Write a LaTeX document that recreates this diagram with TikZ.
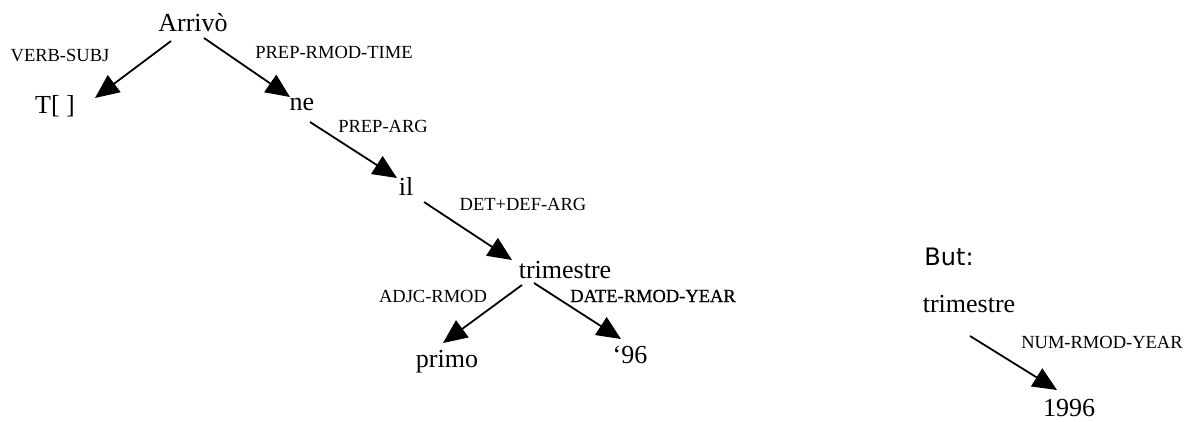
\documentclass[tikz,border=0pt]{standalone}
\usepackage{fontspec}
\setmainfont{Liberation Serif}
\newfontfamily\butfont{DejaVu Sans}
\newfontfamily\heavyserif[FakeBold=0.6]{Liberation Serif}
\usetikzlibrary{arrows.meta,calc}
\tikzset{
  word/.style={inner sep=0pt, anchor=base, font=\fontsize{26}{30}\selectfont},
  rel/.style={inner sep=0pt, anchor=center, font=\fontsize{18.5}{20}\selectfont},
  arr/.style={line width=1.8pt, -{Triangle[length=24pt,width=21pt]}},
}
\begin{document}
\begin{tikzpicture}[x=1pt,y=-1pt]
\useasboundingbox (0,0) rectangle (1189,421);
% words
\node[word] (arrivo) at (193,31) {Arrivò};
\node[word] (t) at (55,113) {T[ ]};
\node[word] (ne) at (302,110) {ne};
\node[word] (il) at (406,195) {il};
\node[word] (tri) at (565,278) {trimestre};
\node[word] (primo) at (447,367) {primo};
\node[word] (y96) at (630,363) {‘96};
\node[inner sep=0pt, anchor=base, font=\butfont\fontsize{24}{28}\selectfont] (but) at (949,265) {But:};
\node[word] (tri2) at (969,312) {trimestre};
\node[word] (y1996) at (1069,416) {1996};
% relation labels
\node[rel] (l1) at (60,56) {VERB-SUBJ};
\node[rel] (l2) at (334,52) {PREP-RMOD-TIME};
\node[rel] (l3) at (383,126) {PREP-ARG};
\node[rel] (l4) at (523,204) {DET+DEF-ARG};
\node[rel] (l5) at (433,296) {ADJC-RMOD};
\node[rel, font=\heavyserif\fontsize{18.5}{20}\selectfont] (l6) at (653,296) {DATE-RMOD-YEAR};
\node[rel] (l7) at (1102,342) {NUM-RMOD-YEAR};
% connectors
\draw[arr] ($(arrivo.base)+(-22,10)$) -- ($(t.base)+(40,-15)$);
\draw[arr] ($(arrivo.base)+(11,7)$) -- ($(ne.base)+(-12,-13)$);
\draw[arr] ($(ne.base)+(8,12)$) -- ($(il.base)+(-9,-17)$);
\draw[arr] ($(il.base)+(18,7)$) -- ($(tri.base)+(-53,-18)$);
\draw[arr] ($(tri.base)+(-43,7)$) -- ($(primo.base)+(-4,-24)$);
\draw[arr] ($(tri.base)+(-31,5)$) -- ($(y96.base)+(-9,-24)$);
\draw[arr] ($(tri2.base)+(1,24)$) -- ($(y1996.base)+(-12,-26)$);
\end{tikzpicture}
\end{document}
